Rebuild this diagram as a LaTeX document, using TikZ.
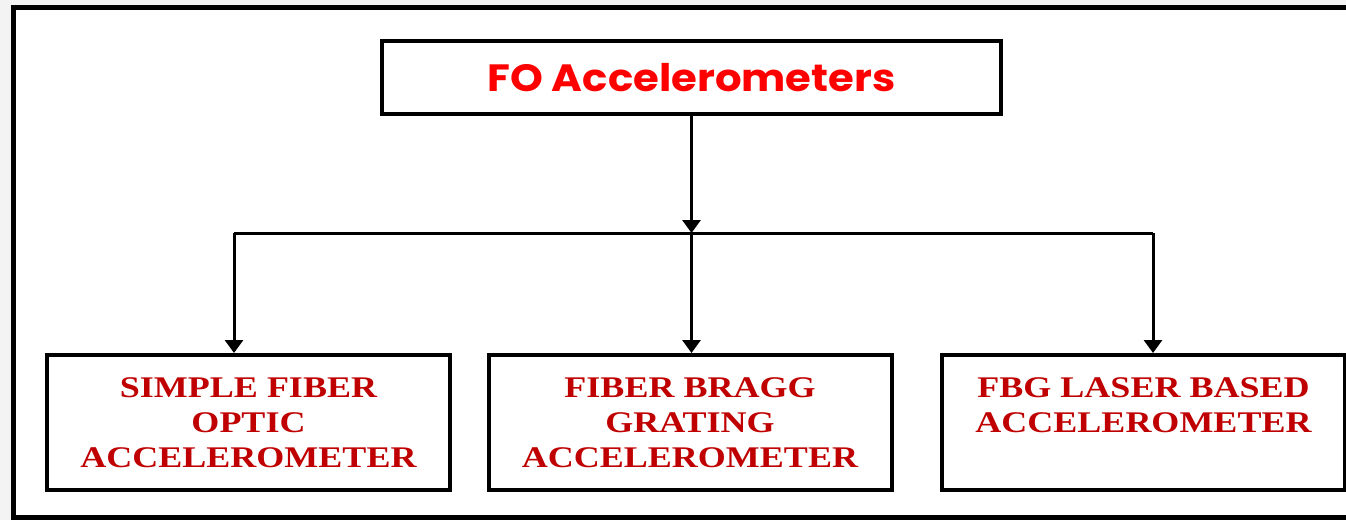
\documentclass[tikz,border=0pt]{standalone}
\usepackage{fontspec}
\usetikzlibrary{arrows.meta}
\newfontfamily\titlefont[FakeStretch=1.1]{Poppins}
\newfontfamily\boxfont[FakeStretch=1.2]{Liberation Serif}
\definecolor{titlered}{RGB}{255,0,0}
\definecolor{boxred}{RGB}{192,0,0}
\definecolor{pagegray}{RGB}{243,243,243}
\tikzset{
  typebox/.style={draw,line width=4pt,minimum width=403pt,minimum height=135pt,
    align=center,text=boxred,font=\boxfont\bfseries\fontsize{30}{35}\selectfont},
  conn/.style={line width=3pt,-{Triangle[length=13pt,width=18pt]}}
}
\begin{document}
\begin{tikzpicture}[x=1pt,y=-1pt]
      \useasboundingbox (0,0) rectangle (1346,520);
      \fill[pagegray] (0,0) rectangle (1346,520);
      \fill[white] (13,7.5) rectangle (1346,517);
      \draw[line width=5pt] (1346,7.5) -- (13,7.5) -- (13,517) -- (1346,517);
      \draw
        (691.5,77.5) node[draw,line width=4pt,minimum width=619pt,minimum height=73pt,
          text=titlered,font=\titlefont\bfseries\fontsize{38}{42}\selectfont] (fo){FO Accelerometers}
        (248.5,422.5) node[typebox] (sfo){SIMPLE FIBER\\OPTIC\\ACCELEROMETER}
        (690,422.5) node[typebox] (fbg){FIBER BRAGG\\GRATING\\ACCELEROMETER}
        (1143.5,422.5) node[typebox] (fbgl){FBG LASER BASED\\ACCELEROMETER\\~};
      \coordinate (busL) at (234,233);
      \coordinate (busM) at (691.5,233);
      \coordinate (busR) at (1153,233);
      \begin{scope}[line width=3pt]
        \draw[conn] (fo.south) to (busM);
        \draw (busL) to (busR);
        \draw[conn] (busL) to (busL |- sfo.north);
        \draw[conn] (busM) to (busM |- fbg.north);
        \draw[conn] (busR) to (busR |- fbgl.north);
      \end{scope}
    \end{tikzpicture}
\end{document}
